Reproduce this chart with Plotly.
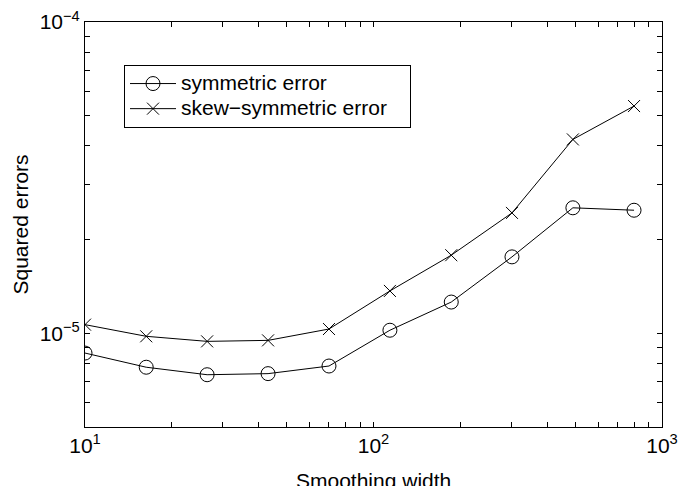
import plotly.graph_objects as go

# Data
smoothing_width = [10, 16.3, 26.5, 43.1, 70.1, 114, 186, 302, 491, 800]
symmetric_error = [8.64e-6, 7.78e-6, 7.36e-6, 7.42e-6, 7.85e-6, 1.023e-5, 1.26e-5, 1.76e-5, 2.53e-5, 2.485e-5]
skew_symmetric_error = [1.066e-5, 9.78e-6, 9.42e-6, 9.49e-6, 1.032e-5, 1.368e-5, 1.782e-5, 2.436e-5, 4.196e-5, 5.37e-5]
series_names = ["symmetric error", "skew\u2212symmetric error"]

x_decades = [10, 100, 1000]
x_decade_labels = ["10<sup>1</sup>", "10<sup>2</sup>", "10<sup>3</sup>"]
y_decades = [1e-5, 1e-4]
y_decade_labels = ["10<sup>\u22125</sup>", "10<sup>\u22124</sup>"]

FONT = "Liberation Sans, Arial, Helvetica, sans-serif"
FS = 21

def log_ticks(lo_exp, hi_exp, decades, labels):
    vals, texts = [], []
    for e in range(lo_exp, hi_exp + 1):
        for m in range(1, 10):
            v = m * 10 ** e
            vals.append(v)
            match = [i for i, d in enumerate(decades) if abs(v - d) / d < 1e-9]
            texts.append(labels[match[0]] if match else "")
    return vals, texts

xt_vals, xt_text = log_ticks(1, 3, x_decades, x_decade_labels)
yt_vals, yt_text = log_ticks(-6, -4, y_decades, y_decade_labels)

def legend_name(s, pad=0):
    return '<span style="font-size:%dpx">%s%s</span>' % (FS, s, "\u00a0" * pad)

fig = go.Figure()
fig.add_trace(go.Scatter(
    x=smoothing_width, y=symmetric_error, mode="lines+markers",
    name=legend_name(series_names[0]),
    line=dict(color="black", width=1),
    marker=dict(symbol="circle-open", size=14, color="black", line=dict(width=1, color="black")),
))
fig.add_trace(go.Scatter(
    x=smoothing_width, y=skew_symmetric_error, mode="lines+markers",
    name=legend_name(series_names[1], pad=3),
    line=dict(color="black", width=1),
    marker=dict(symbol="x-thin-open", size=12, color="black", line=dict(width=1, color="black")),
))

axis_common = dict(
    showgrid=False, zeroline=False, showline=True, linecolor="black", linewidth=1,
    mirror="ticks", ticks="inside", ticklen=5, tickcolor="black", tickwidth=1,
    tickfont=dict(family=FONT, size=FS, color="black"), automargin=False,
)

fig.update_xaxes(type="log", range=[1, 3], tickvals=xt_vals, ticktext=xt_text, **axis_common)
fig.update_yaxes(type="log", range=[-5.30103, -4], tickvals=yt_vals, ticktext=yt_text, **axis_common)

fig.update_layout(
    width=678, height=486,
    margin=dict(l=85, r=16, t=22, b=59, autoexpand=False),
    paper_bgcolor="white", plot_bgcolor="white",
    font=dict(family=FONT, size=FS, color="black"),
    showlegend=True,
    legend=dict(
        x=(124 - 85) / 577, y=(427 - 65) / 405, xanchor="left", yanchor="top",
        bordercolor="black", borderwidth=1, bgcolor="white",
        font=dict(family=FONT, size=17, color="black"),
        tracegroupgap=0, itemwidth=46,
    ),
    annotations=[
        dict(text="Smoothing width", xref="paper", yref="paper", x=0.5, y=0,
             xanchor="center", yanchor="top", yshift=-40, showarrow=False,
             font=dict(family=FONT, size=FS, color="black")),
        dict(text="Squared errors", xref="paper", yref="paper", x=0, y=0.5,
             xanchor="center", yanchor="middle", xshift=-65, textangle=-90, showarrow=False,
             font=dict(family=FONT, size=FS, color="black")),
    ],
)

fig.write_html("out.html")
